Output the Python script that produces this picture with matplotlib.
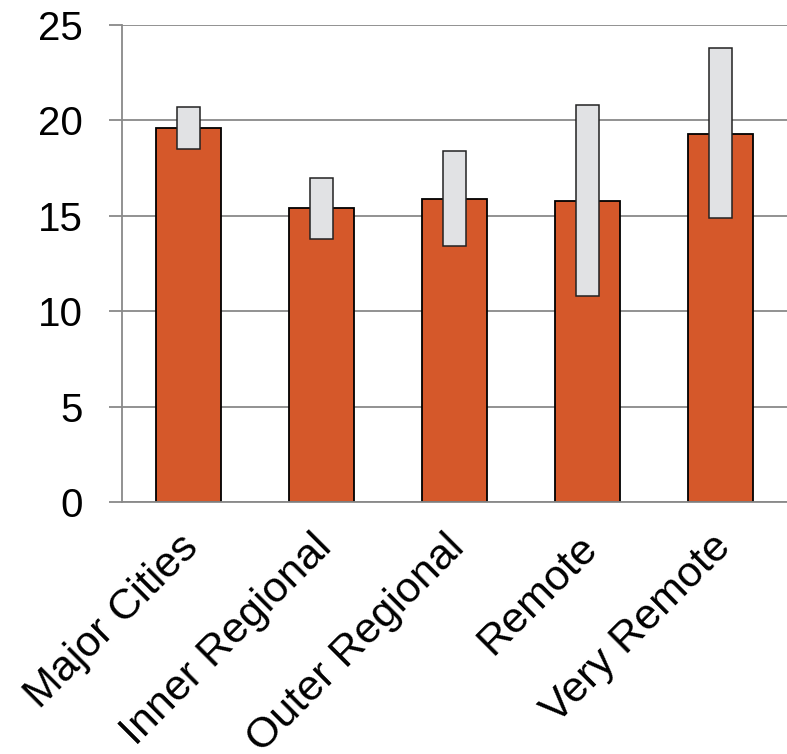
import numpy as np
import matplotlib
matplotlib.use("Agg")
import matplotlib.pyplot as plt
from matplotlib.transforms import ScaledTranslation

plt.rcParams["font.family"] = ["Liberation Sans", "DejaVu Sans"]

# Data
regions = ["Major Cities", "Inner Regional", "Outer Regional", "Remote", "Very Remote"]
values = [19.6, 15.4, 15.9, 15.8, 19.3]
ci_low = [18.5, 13.8, 13.4, 10.8, 14.9]
ci_high = [20.7, 17.0, 18.4, 20.8, 23.8]
yticks = [0, 5, 10, 15, 20, 25]

grid_col = "#898989"
x = np.arange(len(regions))

fig = plt.figure(figsize=(7.87, 7.54), dpi=100)
ax = fig.add_axes([122 / 787, 1 - 502 / 754, 665 / 787, 477 / 754])

ax.bar(x, values, width=0.49, color="#D5582A", edgecolor="black", linewidth=1.3, zorder=2)
ax.bar(x, np.array(ci_high) - np.array(ci_low), bottom=ci_low, width=0.17,
       color="#E1E2E4", edgecolor="#222222", linewidth=1.1, zorder=3)

ax.set_xlim(-0.5, 4.5)
ax.set_ylim(0, 25)
ax.set_yticks(yticks)
ax.yaxis.grid(True, color=grid_col, linewidth=1.3)
ax.set_axisbelow(True)

for s in ["top", "right"]:
    ax.spines[s].set_visible(False)
for s in ["left", "bottom"]:
    ax.spines[s].set_color(grid_col)
    ax.spines[s].set_linewidth(1.3)

ax.tick_params(axis="y", length=9.4, width=1.3, color=grid_col, pad=19, labelsize=29)
ax.tick_params(axis="x", length=0, pad=18)
ax.set_xticks(x)
ax.set_xticklabels(regions, rotation=45, ha="right", rotation_mode="anchor", fontsize=31)
shift = ScaledTranslation(-10 / 100, 0, fig.dpi_scale_trans)
for lbl in ax.get_xticklabels():
    lbl.set_transform(lbl.get_transform() + shift)

fig.savefig("out.png", dpi=100)
